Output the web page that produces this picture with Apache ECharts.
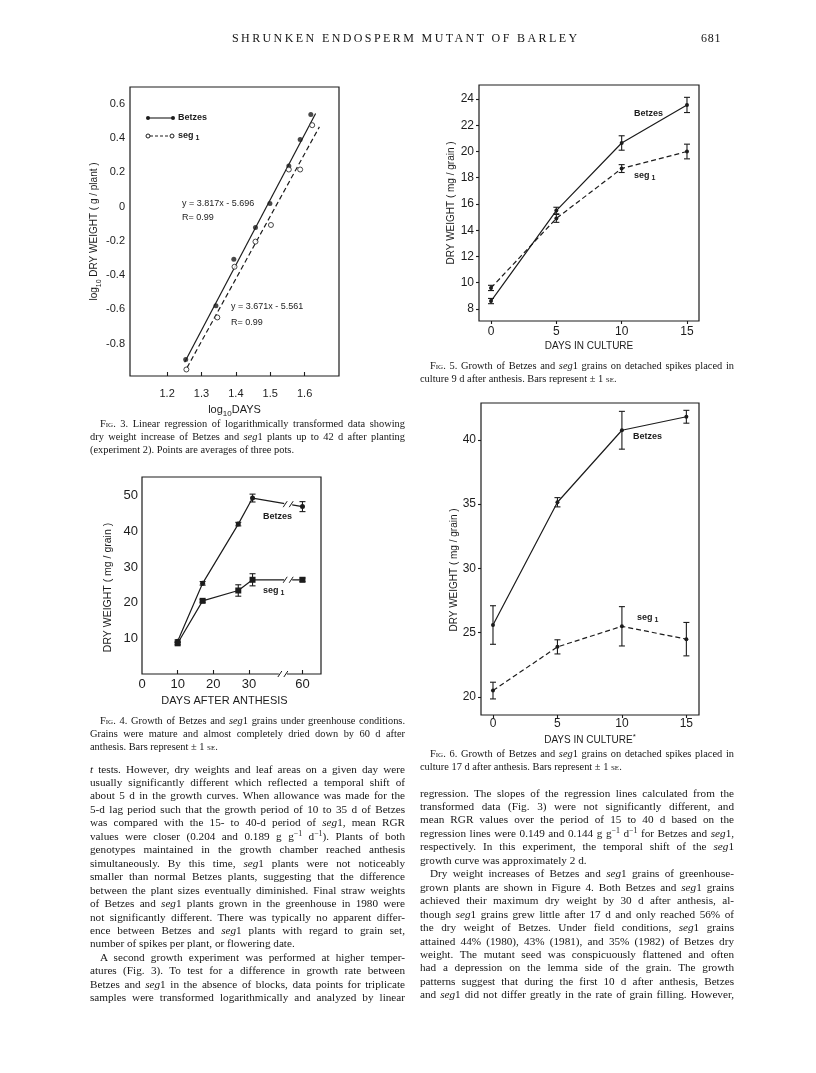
<!DOCTYPE html>
<html>
<head>
<meta charset="utf-8">
<script src="https://cdn.jsdelivr.net/npm/echarts@6/dist/echarts.min.js"></script>
<style>
  html, body { margin: 0; padding: 0; background: #fff; }
  #page { position: relative; width: 816px; height: 1073px; overflow: hidden; background: #fff; }
  #chart { position: absolute; left: 0; top: 0; width: 816px; height: 1073px; }
  .ln { position: absolute; white-space: nowrap; font-family: 'Liberation Serif', 'DejaVu Serif', serif; color: #151515; line-height: 13px; height: 13px; }
  .j { text-align: justify; text-align-last: justify; }
  .sc { font-variant: small-caps; }
  sup { font-size: 70%; line-height: 0; vertical-align: 4px; }
</style>
</head>
<body>
<div id="page">
  <div id="chart"></div>
  <div id="text"></div>
</div>
<script>
const ink = '#1c1c1c'
const sans = "'Liberation Sans', 'DejaVu Sans', sans-serif"

// ---- Fig. 3: log10 dry weight vs log10 days ----
const fig3XTicks = [1.2, 1.3, 1.4, 1.5, 1.6]
const fig3YTicks = [-0.8, -0.6, -0.4, -0.2, 0, 0.2, 0.4, 0.6]
const fig3BetzesLogDays = [1.254, 1.342, 1.394, 1.457, 1.499, 1.554, 1.587, 1.618]
const fig3BetzesLogW = [-0.893, -0.579, -0.307, -0.122, 0.019, 0.237, 0.392, 0.538]
const fig3SegLogDays = [1.256, 1.346, 1.396, 1.457, 1.502, 1.554, 1.587, 1.622]
const fig3SegLogW = [-0.951, -0.647, -0.351, -0.204, -0.107, 0.217, 0.217, 0.476]
// regression lines as drawn (end points)
const fig3BetzesFitX = [1.251, 1.632]
const fig3BetzesFitY = [-0.909, 0.544]
const fig3SegFitX = [1.258, 1.643]
const fig3SegFitY = [-0.94, 0.466]

// ---- Fig. 4: greenhouse, days after anthesis ----
const fig4Days = [10, 17, 27, 31, 60]
const fig4Betzes = [9.2, 25.4, 42.0, 49.3, 46.9]
const fig4BetzesSE = [0.4, 0.5, 0.5, 1.1, 1.4]
const fig4Seg = [8.6, 20.5, 23.4, 26.4, 26.4]
const fig4SegSE = [0.4, 0.4, 1.6, 1.7, 0.5]
const fig4XTicks = [0, 10, 20, 30, 60]
const fig4YTicks = [10, 20, 30, 40, 50]

// ---- Fig. 5 and 6: days in culture ----
const cultureDays = [0, 5, 10, 15]
const fig5Betzes = [8.6, 15.5, 20.65, 23.55]
const fig5BetzesSE = [0.2, 0.25, 0.55, 0.58]
const fig5Seg = [9.6, 14.9, 18.7, 20.0]
const fig5SegSE = [0.2, 0.3, 0.3, 0.56]
const fig5YTicks = [8, 10, 12, 14, 16, 18, 20, 22, 24]
const fig6Betzes = [25.6, 35.15, 40.75, 41.8]
const fig6BetzesSE = [1.5, 0.36, 1.47, 0.5]
const fig6Seg = [20.5, 23.9, 25.5, 24.5]
const fig6SegSE = [0.65, 0.55, 1.53, 1.3]
const fig6YTicks = [20, 25, 30, 35, 40]

// broken x axis of Fig. 4: 60 d is drawn 15 units closer
const brk = d => (d >= 60 ? d - 15 : d)
const unbrk = v => (v >= 45 ? v + 15 : v)

const pairs = (xs, ys) => xs.map((x, i) => [x, ys[i]])
const bars = (xs, ys, se) => xs.map((x, i) => [x, ys[i] - se[i], ys[i] + se[i]])

function axis (grid, min, max, ticks, o) {
  return {
    type: 'value',
    gridIndex: grid,
    min: min,
    max: max,
    axisLine: { show: false, onZero: false },
    splitLine: { show: false },
    axisTick: {
      show: o.tick !== false,
      inside: !!o.inside,
      length: o.tickLen || 4,
      customValues: o.tickValues || ticks,
      lineStyle: { color: ink, width: 1.1 }
    },
    axisLabel: {
      customValues: ticks,
      color: ink,
      fontFamily: sans,
      fontSize: o.fontSize || 12,
      margin: o.margin || 6,
      formatter: o.formatter
    },
    name: o.name,
    nameLocation: 'middle',
    nameGap: o.nameGap,
    nameTextStyle: Object.assign({ color: ink, fontFamily: sans, fontSize: o.nameSize || 11 }, o.nameStyle || {})
  }
}

function errorSeries (grid, data) {
  return {
    type: 'custom',
    xAxisIndex: grid,
    yAxisIndex: grid,
    data: data,
    z: 3,
    encode: { x: 0, y: [1, 2] },
    renderItem: (params, api) => {
      const hi = api.coord([api.value(0), api.value(2)])
      const lo = api.coord([api.value(0), api.value(1)])
      const st = { stroke: ink, lineWidth: 1.1 }
      return {
        type: 'group',
        children: [
          { type: 'line', shape: { x1: hi[0], y1: hi[1], x2: lo[0], y2: lo[1] }, style: st },
          { type: 'line', shape: { x1: hi[0] - 3, y1: hi[1], x2: hi[0] + 3, y2: hi[1] }, style: st },
          { type: 'line', shape: { x1: lo[0] - 3, y1: lo[1], x2: lo[0] + 3, y2: lo[1] }, style: st }
        ]
      }
    }
  }
}

function lineSeries (grid, data, symbol, size, dashed) {
  return {
    type: 'line',
    xAxisIndex: grid,
    yAxisIndex: grid,
    data: data,
    symbol: symbol,
    symbolSize: size,
    showSymbol: symbol !== 'none',
    lineStyle: { color: ink, width: 1.2, type: dashed ? [5, 3] : 'solid' },
    itemStyle: { color: ink },
    z: 4
  }
}

const oneDec = v => (Math.abs(v) < 1e-9 ? '0' : v.toFixed(1))
const subRich = (size) => ({
  t: { fontFamily: sans, fontSize: size, color: ink, lineHeight: size + 5 },
  s: { fontFamily: sans, fontSize: size - 3, color: ink, verticalAlign: 'bottom' },
  p: { fontFamily: sans, fontSize: size - 2, color: ink, verticalAlign: 'top' }
})

const gridStyle = { show: true, borderColor: ink, borderWidth: 1.2, backgroundColor: 'transparent' }

const option = {
  animation: false,
  backgroundColor: '#fff',
  grid: [
    Object.assign({ left: 130, top: 87, width: 209, height: 289 }, gridStyle),
    Object.assign({ left: 142, top: 477, width: 179, height: 197 }, gridStyle),
    Object.assign({ left: 479, top: 85, width: 220, height: 236 }, gridStyle),
    Object.assign({ left: 481, top: 403, width: 218, height: 312 }, gridStyle)
  ],
  xAxis: [
    axis(0, 1.092, 1.700, fig3XTicks, {
      inside: true, fontSize: 11, margin: 12, formatter: oneDec,
      name: '{t|log}{s|10}{t|DAYS}', nameGap: 26, nameStyle: { rich: subRich(11) }
    }),
    axis(1, 0, 50.2, fig4XTicks.map(brk), {
      inside: true, fontSize: 13, margin: 4, formatter: v => String(unbrk(v)),
      tickValues: fig4XTicks.slice(1).map(brk),
      name: 'DAYS AFTER ANTHESIS', nameGap: 21, nameSize: 11,
      nameStyle: { padding: [0, 14, 0, 0] }
    }),
    axis(2, -0.92, 15.92, cultureDays, {
      tickLen: 3, fontSize: 12, margin: 5,
      name: 'DAYS IN CULTURE', nameGap: 20, nameSize: 10
    }),
    axis(3, -0.93, 15.98, cultureDays, {
      tickLen: 3, fontSize: 12, margin: 3,
      name: '{t|DAYS IN CULTURE}{p|*}', nameGap: 18, nameStyle: { rich: subRich(10) }
    })
  ],
  yAxis: [
    axis(0, -0.989, 0.699, fig3YTicks, {
      tick: false, fontSize: 11, margin: 5, formatter: oneDec,
      name: '{t|log}{s|10}{t| DRY WEIGHT ( g / plant )}', nameGap: 26, nameStyle: { rich: subRich(10) }
    }),
    axis(1, 0, 55.2, fig4YTicks, {
      tick: false, fontSize: 13, margin: 4,
      name: 'DRY WEIGHT ( mg / grain )', nameGap: 28, nameSize: 10.5,
      nameStyle: { padding: [0, 24, 0, 0] }
    }),
    axis(2, 7.08, 25.07, fig5YTicks, {
      tickLen: 3, fontSize: 12, margin: 5,
      name: 'DRY WEIGHT ( mg / grain )', nameGap: 23, nameSize: 10
    }),
    axis(3, 18.6, 42.87, fig6YTicks, {
      tickLen: 3, fontSize: 12, margin: 5,
      name: 'DRY WEIGHT ( mg / grain )', nameGap: 22, nameSize: 10,
      nameStyle: { padding: [0, 22, 0, 0] }
    })
  ],
  series: [
    // Fig. 3
    lineSeries(0, pairs(fig3BetzesFitX, fig3BetzesFitY), 'none', 0, false),
    lineSeries(0, pairs(fig3SegFitX, fig3SegFitY), 'none', 0, true),
    {
      type: 'scatter', xAxisIndex: 0, yAxisIndex: 0, z: 5,
      data: pairs(fig3BetzesLogDays, fig3BetzesLogW),
      symbol: 'circle', symbolSize: 5, itemStyle: { color: ink }
    },
    {
      type: 'scatter', xAxisIndex: 0, yAxisIndex: 0, z: 5,
      data: pairs(fig3SegLogDays, fig3SegLogW),
      symbol: 'circle', symbolSize: 5, itemStyle: { color: '#fff', borderColor: ink, borderWidth: 1 }
    },
    // Fig. 4
    lineSeries(1, pairs(fig4Days.map(brk), fig4Betzes), 'circle', 5, false),
    lineSeries(1, pairs(fig4Days.map(brk), fig4Seg), 'rect', 6, false),
    errorSeries(1, bars(fig4Days.map(brk), fig4Betzes, fig4BetzesSE)),
    errorSeries(1, bars(fig4Days.map(brk), fig4Seg, fig4SegSE)),
    // Fig. 5
    lineSeries(2, pairs(cultureDays, fig5Betzes), 'circle', 4, false),
    lineSeries(2, pairs(cultureDays, fig5Seg), 'circle', 4, true),
    errorSeries(2, bars(cultureDays, fig5Betzes, fig5BetzesSE)),
    errorSeries(2, bars(cultureDays, fig5Seg, fig5SegSE)),
    // Fig. 6
    lineSeries(3, pairs(cultureDays, fig6Betzes), 'circle', 4, false),
    lineSeries(3, pairs(cultureDays, fig6Seg), 'circle', 4, true),
    errorSeries(3, bars(cultureDays, fig6Betzes, fig6BetzesSE)),
    errorSeries(3, bars(cultureDays, fig6Seg, fig6SegSE))
  ]
}

const chart = echarts.init(document.getElementById('chart'))
chart.setOption(option)

// ---- annotations ----
function txt (x, y, text, size, bold, rich) {
  return {
    type: 'text', x: x, y: y, z: 100,
    style: {
      text: text, fill: ink, fontFamily: sans, fontSize: size,
      fontWeight: bold ? 'bold' : 'normal',
      align: 'left', verticalAlign: 'middle',
      textAlign: 'left', textVerticalAlign: 'middle',
      rich: rich
    }
  }
}
const segRich = {
  a: { fontFamily: sans, fontSize: 9, fontWeight: 'bold', fill: ink, color: ink, lineHeight: 12 },
  b: { fontFamily: sans, fontSize: 7, fontWeight: 'bold', fill: ink, color: ink, verticalAlign: 'bottom' }
}
const segLabel = (x, y) => txt(x, y, '{a|seg}{b| 1}', 9, true, segRich)

function slashes (p, z) {
  const cx = p[0]; const cy = p[1]
  return [
    { type: 'rect', z: z, shape: { x: cx - 4, y: cy - 2, width: 8, height: 4 }, style: { fill: '#fff' } },
    { type: 'line', z: z + 1, shape: { x1: cx - 5, y1: cy + 3, x2: cx - 1, y2: cy - 3 }, style: { stroke: ink, lineWidth: 1 } },
    { type: 'line', z: z + 1, shape: { x1: cx + 1, y1: cy + 3, x2: cx + 5, y2: cy - 3 }, style: { stroke: ink, lineWidth: 1 } }
  ]
}
function interp (xs, ys, x) {
  for (let i = 1; i < xs.length; i++) {
    if (x <= xs[i]) {
      const t = (x - xs[i - 1]) / (xs[i] - xs[i - 1])
      return ys[i - 1] + t * (ys[i] - ys[i - 1])
    }
  }
  return ys[ys.length - 1]
}
const px4 = v => chart.convertToPixel({ xAxisIndex: 1, yAxisIndex: 1 }, v)
const bx = fig4Days.map(brk)

const graphics = [
  // Fig. 3 legend
  { type: 'line', z: 100, shape: { x1: 148, y1: 118, x2: 173, y2: 118 }, style: { stroke: ink, lineWidth: 1.1 } },
  { type: 'circle', z: 101, shape: { cx: 148, cy: 118, r: 2 }, style: { fill: ink } },
  { type: 'circle', z: 101, shape: { cx: 173, cy: 118, r: 2 }, style: { fill: ink } },
  txt(178, 118, 'Betzes', 9, true),
  { type: 'line', z: 100, shape: { x1: 150, y1: 136, x2: 170, y2: 136 }, style: { stroke: ink, lineWidth: 1, lineDash: [3, 2] } },
  { type: 'circle', z: 101, shape: { cx: 148, cy: 136, r: 2 }, style: { fill: '#fff', stroke: ink, lineWidth: 1 } },
  { type: 'circle', z: 101, shape: { cx: 172, cy: 136, r: 2 }, style: { fill: '#fff', stroke: ink, lineWidth: 1 } },
  segLabel(178, 136),
  txt(182, 204, 'y = 3.817x - 5.696', 9, false),
  txt(182, 218, 'R= 0.99', 9, false),
  txt(231, 307, 'y = 3.671x - 5.561', 9, false),
  txt(231, 323, 'R= 0.99', 9, false),
  // Fig. 4 labels
  txt(263, 517, 'Betzes', 9, true),
  segLabel(263, 591),
  // Fig. 5 labels
  txt(634, 114, 'Betzes', 9, true),
  segLabel(634, 176),
  // Fig. 6 labels
  txt(633, 437, 'Betzes', 9, true),
  segLabel(637, 618)
]
  .concat(slashes(px4([39.5, 0]), 110))
  .concat(slashes(px4([41, interp(bx, fig4Betzes, 41)]), 110))
  .concat(slashes(px4([41, interp(bx, fig4Seg, 41)]), 110))

chart.setOption({ graphic: { elements: graphics } })

// ---- page text ----
const header = [
  { x: 232, y: 38, w: 350, size: 12, html: 'SHRUNKEN ENDOSPERM MUTANT OF BARLEY', spacing: 2.4 },
  { x: 701, y: 38, w: 24, size: 12, html: '681', spacing: 0.8 }
]
const blocks = [
  { x: 90, w: 315, y: 423, step: 13.4, size: 10.4, lines: [
    ['i', '<span class="sc">Fig</span>. 3. Linear regression of logarithmically transformed data showing'],
    ['', 'dry weight increase of Betzes and <i>seg</i>1 plants up to 42 d after planting'],
    ['e', '(experiment 2). Points are averages of three pots.']
  ] },
  { x: 90, w: 315, y: 720, step: 13.4, size: 10.4, lines: [
    ['i', '<span class="sc">Fig</span>. 4. Growth of Betzes and <i>seg</i>1 grains under greenhouse conditions.'],
    ['', 'Grains were mature and almost completely dried down by 60 d after'],
    ['e', 'anthesis. Bars represent ± 1 <span class="sc">se</span>.']
  ] },
  { x: 420, w: 314, y: 365, step: 13.2, size: 10.4, lines: [
    ['i', '<span class="sc">Fig</span>. 5. Growth of Betzes and <i>seg</i>1 grains on detached spikes placed in'],
    ['e', 'culture 9 d after anthesis. Bars represent ± 1 <span class="sc">se</span>.']
  ] },
  { x: 420, w: 314, y: 753, step: 13.4, size: 10.4, lines: [
    ['i', '<span class="sc">Fig</span>. 6. Growth of Betzes and <i>seg</i>1 grains on detached spikes placed in'],
    ['e', 'culture 17 d after anthesis. Bars represent ± 1 <span class="sc">se</span>.']
  ] },
  { x: 90, w: 315, y: 769, step: 13.45, size: 11.2, lines: [
    ['', '<i>t</i> tests. However, dry weights and leaf areas on a given day were'],
    ['', 'usually significantly different which reflected a temporal shift of'],
    ['', 'about 5 d in the growth curves. When allowance was made for the'],
    ['', '5-d lag period such that the growth period of 10 to 35 d of Betzes'],
    ['', 'was compared with the 15- to 40-d period of <i>seg</i>1, mean RGR'],
    ['', 'values were closer (0.204 and 0.189 g g<sup>−1</sup> d<sup>−1</sup>). Plants of both'],
    ['', 'genotypes maintained in the growth chamber reached anthesis'],
    ['', 'simultaneously. By this time, <i>seg</i>1 plants were not noticeably'],
    ['', 'smaller than normal Betzes plants, suggesting that the difference'],
    ['', 'between the plant sizes eventually diminished. Final straw weights'],
    ['', 'of Betzes and <i>seg</i>1 plants grown in the greenhouse in 1980 were'],
    ['', 'not significantly different. There was typically no apparent differ-'],
    ['', 'ence between Betzes and <i>seg</i>1 plants with regard to grain set,'],
    ['e', 'number of spikes per plant, or flowering date.'],
    ['i', 'A second growth experiment was performed at higher temper-'],
    ['', 'atures (Fig. 3). To test for a difference in growth rate between'],
    ['', 'Betzes and <i>seg</i>1 in the absence of blocks, data points for triplicate'],
    ['', 'samples were transformed logarithmically and analyzed by linear']
  ] },
  { x: 420, w: 314, y: 793, step: 13.45, size: 11.2, lines: [
    ['', 'regression. The slopes of the regression lines calculated from the'],
    ['', 'transformed data (Fig. 3) were not significantly different, and'],
    ['', 'mean RGR values over the period of 15 to 40 d based on the'],
    ['', 'regression lines were 0.149 and 0.144 g g<sup>−1</sup> d<sup>−1</sup> for Betzes and <i>seg</i>1,'],
    ['', 'respectively. In this experiment, the temporal shift of the <i>seg</i>1'],
    ['e', 'growth curve was approximately 2 d.'],
    ['i', 'Dry weight increases of Betzes and <i>seg</i>1 grains of greenhouse-'],
    ['', 'grown plants are shown in Figure 4. Both Betzes and <i>seg</i>1 grains'],
    ['', 'achieved their maximum dry weight by 30 d after anthesis, al-'],
    ['', 'though <i>seg</i>1 grains grew little after 17 d and only reached 56% of'],
    ['', 'the dry weight of Betzes. Under field conditions, <i>seg</i>1 grains'],
    ['', 'attained 44% (1980), 43% (1981), and 35% (1982) of Betzes dry'],
    ['', 'weight. The mutant seed was conspicuously flattened and often'],
    ['', 'had a depression on the lemma side of the grain. The growth'],
    ['', 'patterns suggest that during the first 10 d after anthesis, Betzes'],
    ['', 'and <i>seg</i>1 did not differ greatly in the rate of grain filling. However,']
  ] }
]

const box = document.getElementById('text')
header.forEach(h => {
  const d = document.createElement('div')
  d.className = 'ln'
  d.style.cssText = `left:${h.x}px;top:${h.y - 6.5}px;width:${h.w}px;font-size:${h.size}px;letter-spacing:${h.spacing}px;`
  d.innerHTML = h.html
  box.appendChild(d)
})
blocks.forEach(b => {
  b.lines.forEach((l, i) => {
    const d = document.createElement('div')
    const ind = l[0] === 'i' ? 10 : 0
    d.className = l[0] === 'e' ? 'ln' : 'ln j'
    d.style.cssText = `left:${b.x + ind}px;top:${(b.y + i * b.step - 6.5).toFixed(1)}px;width:${b.w - ind}px;font-size:${b.size}px;`
    d.innerHTML = l[1]
    box.appendChild(d)
  })
})
</script>
</body>
</html>
